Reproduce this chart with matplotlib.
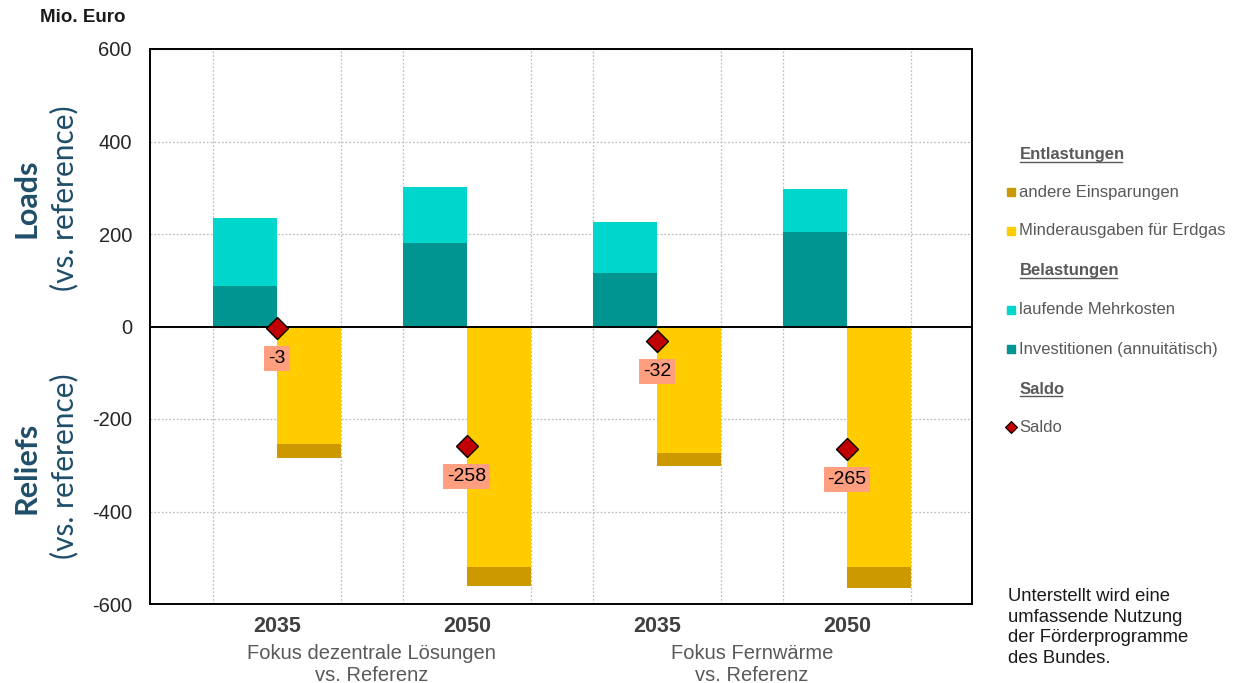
import matplotlib
matplotlib.use("Agg")
import matplotlib.pyplot as plt
import numpy as np

# ---- data ----
years = ["2035", "2050", "2035", "2050"]
groups = ["Fokus dezentrale Lösungen\nvs. Referenz", "Fokus Fernwärme\nvs. Referenz"]
investitionen = [87, 181, 116, 205]
laufende = [148, 120, 110, 93]
minderausgaben = [-253, -519, -274, -520]
andere = [-31, -43, -28, -46]
saldo = [-3, -258, -32, -265]
yticks = [-600, -400, -200, 0, 200, 400, 600]

C_INV = "#009590"
C_LAUF = "#00D6CC"
C_MIND = "#FFCC00"
C_AND = "#CC9900"
C_SALDO = "#C00000"
C_LABEL = "#FF9F80"
GRAY = "#595959"

plt.rcParams['font.family'] = ['Liberation Sans', 'DejaVu Sans']

fig = plt.figure(figsize=(12.49, 6.83), dpi=100)
W, H = 1249, 683
ax = fig.add_axes([150 / W, 1 - 604 / H, (972 - 150) / W, (604 - 49) / H])

x = np.arange(len(years))
w = 0.337

ax.bar(x - w, investitionen, width=w, align='edge', color=C_INV, zorder=2)
ax.bar(x - w, laufende, width=w, align='edge', bottom=investitionen, color=C_LAUF, zorder=2)
ax.bar(x, minderausgaben, width=w, align='edge', color=C_MIND, zorder=2)
ax.bar(x, andere, width=w, align='edge', bottom=minderausgaben, color=C_AND, zorder=2)

ax.axhline(0, color='black', lw=1.4, zorder=3)

ax.plot(x, saldo, linestyle='none', marker='D', markersize=11, markerfacecolor=C_SALDO,
        markeredgecolor='black', markeredgewidth=1.0, zorder=5)
for xi, s in zip(x, saldo):
    ax.annotate(f"{s}", (xi, s), xytext=(0, -22), textcoords='offset points',
                ha='center', va='center', fontsize=14, color='black', zorder=6,
                bbox=dict(boxstyle='square,pad=0.2', fc=C_LABEL, ec='none'))

ax.set_xlim(-0.668, 3.658)
ax.set_ylim(-600, 600)
ax.set_yticks(yticks)
ax.set_yticklabels([str(v) for v in yticks], fontsize=14.5, color='#262626')
ax.tick_params(axis='y', length=0, pad=13)

# vertical gridlines at bar edges and centers
vgrid = np.sort(np.concatenate([x - w, x, x + w]))
ax.set_xticks(vgrid, minor=True)
ax.set_xticks(x)
ax.set_xticklabels(years, fontsize=15.5, fontweight='bold', color='#404040')
ax.tick_params(axis='x', which='both', length=0, pad=9)
ax.grid(True, which='minor', axis='x', color='#BFBFBF', linestyle=(0, (1.5, 1.5)), lw=0.9, zorder=0)
ax.grid(True, which='major', axis='y', color='#BFBFBF', linestyle=(0, (1.5, 1.5)), lw=0.9, zorder=0)
ax.set_axisbelow(True)
for sp in ax.spines.values():
    sp.set_color('black')
    sp.set_linewidth(1.4)

# group labels
for gi, g in enumerate(groups):
    cx = (x[2 * gi] + x[2 * gi + 1]) / 2
    ax.text(cx, -0.072, g, transform=ax.get_xaxis_transform(), ha='center', va='top',
            fontsize=14.5, color=GRAY, linespacing=1.2)

# titles / side labels
fig.text(40 / W, 1 - 17 / H, "Mio. Euro", fontsize=13.5, fontweight='bold', ha='left', va='center', color='#1a1a1a')
side_font = ['Lato', 'DejaVu Sans']
fig.text(26 / W, 1 - 198 / H, "Loads", rotation=90, fontsize=22, fontweight='bold',
         color='#1F4E69', ha='center', va='center', family=side_font)
fig.text(64 / W, 1 - 198 / H, "(vs. reference)", rotation=90, fontsize=21.5,
         color='#1F4E69', ha='center', va='center', family=side_font)
fig.text(26 / W, 1 - 468 / H, "Reliefs", rotation=90, fontsize=22, fontweight='bold',
         color='#1F4E69', ha='center', va='center', family=side_font)
fig.text(64 / W, 1 - 466 / H, "(vs. reference)", rotation=90, fontsize=21.5,
         color='#1F4E69', ha='center', va='center', family=side_font)

# legend (manual)
leg_items = [
    ("Entlastungen", None, 155),
    ("andere Einsparungen", ('s', C_AND), 192),
    ("Minderausgaben für Erdgas", ('s', C_MIND), 231),
    ("Belastungen", None, 271),
    ("laufende Mehrkosten", ('s', C_LAUF), 310),
    ("Investitionen (annuitätisch)", ('s', C_INV), 349),
    ("Saldo", None, 389),
    ("Saldo", ('D', C_SALDO), 427),
]
fig.canvas.draw()
for label, mk, ypx in leg_items:
    yf = 1 - ypx / H
    if mk is None:
        t = fig.text(1020 / W, yf, label, fontsize=12, fontweight='bold', color=GRAY, ha='left', va='center')
        bb = t.get_window_extent(renderer=fig.canvas.get_renderer())
        fig.add_artist(plt.Line2D([bb.x0 / W, (bb.x1 - 3) / W], [(bb.y0 + 1) / H, (bb.y0 + 1) / H],
                                  color=GRAY, lw=1.0, transform=fig.transFigure))
    else:
        m, c = mk
        if m == 's':
            fig.add_artist(plt.Line2D([1011 / W], [yf], marker='s', markersize=6, color=c,
                                      linestyle='none', transform=fig.transFigure))
        else:
            fig.add_artist(plt.Line2D([1011 / W], [yf], marker='D', markersize=6, markerfacecolor=c,
                                      markeredgecolor='black', markeredgewidth=0.8,
                                      linestyle='none', transform=fig.transFigure))
        fig.text(1019 / W, yf, label, fontsize=12, color=GRAY, ha='left', va='center')

fig.text(1008 / W, 1 - 588 / H,
         "Unterstellt wird eine\numfassende Nutzung\nder Förderprogramme\ndes Bundes.",
         fontsize=13.3, color='#1a1a1a', ha='left', va='top', linespacing=1.28)

fig.savefig("out.png", dpi=100)
